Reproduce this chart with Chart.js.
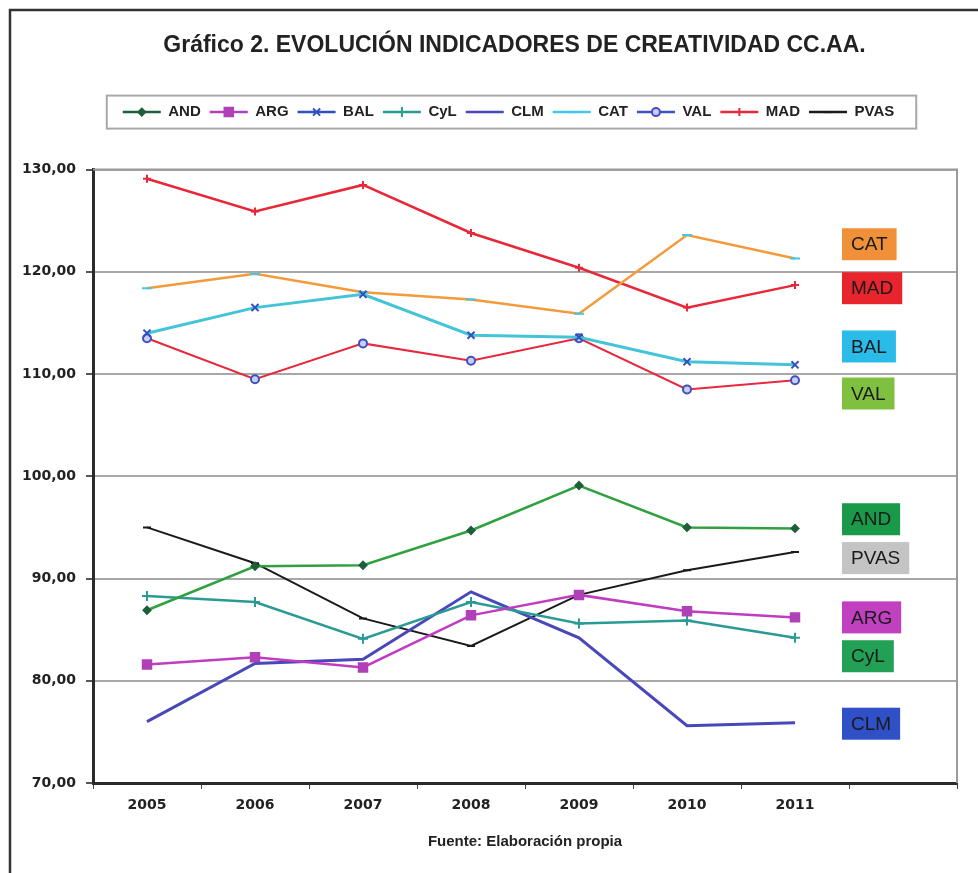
<!DOCTYPE html>
<html>
<head>
<meta charset="utf-8">
<script src="https://cdn.jsdelivr.net/npm/chart.js@4"></script>
<style>
  html, body { margin: 0; padding: 0; background: #fff; }
  #wrap { width: 978px; height: 873px; }
</style>
</head>
<body>
<div id="wrap"><canvas id="myChart"></canvas></div>
<script>
// years on the x axis, the last slot is left empty for the region tags
const years = ['2005', '2006', '2007', '2008', '2009', '2010', '2011', '']

const andValues = [86.9, 91.2, 91.3, 94.7, 99.1, 95.0, 94.9]
const argValues = [81.6, 82.3, 81.3, 86.4, 88.4, 86.8, 86.2]
const balValues = [114.0, 116.5, 117.8, 113.8, 113.6, 111.2, 110.9]
const cylValues = [88.3, 87.7, 84.1, 87.7, 85.6, 85.9, 84.2]
const clmValues = [76.0, 81.7, 82.1, 88.7, 84.2, 75.6, 75.9]
const catValues = [118.4, 119.8, 118.0, 117.3, 115.9, 123.6, 121.3]
const valValues = [113.5, 109.5, 113.0, 111.3, 113.5, 108.5, 109.4]
const madValues = [129.1, 125.9, 128.5, 123.8, 120.4, 116.5, 118.7]
const pvasValues = [95.0, 91.5, 86.1, 83.4, 88.4, 90.8, 92.6]

const yTicks = [70, 80, 90, 100, 110, 120, 130]

// coloured tags on the right side of the plot
const tagNames = ['CAT', 'MAD', 'BAL', 'VAL', 'AND', 'PVAS', 'ARG', 'CyL', 'CLM']
const tagValues = [122.7, 118.4, 112.7, 108.1, 95.8, 92.0, 86.2, 82.4, 75.8]
const tagColors = ['#f0913a', '#e8252d', '#2bbbe8', '#80c040', '#1a9a48', '#c4c4c4', '#c040c0', '#22a055', '#3050c8']

const makeSet = (label, data, color, style, radius, markFill, markLine, width) => ({
    label: label,
    data: data,
    borderColor: color,
    backgroundColor: color,
    borderWidth: width,
    pointStyle: style,
    pointRadius: radius,
    pointBackgroundColor: markFill,
    pointBorderColor: markLine,
    pointBorderWidth: 2,
    tension: 0
})

const datasets = [
    makeSet('AND', andValues, '#30a040', 'rectRot', 3.5, '#1d5f3a', '#1d5f3a', 2.5),
    makeSet('ARG', argValues, '#c03cc0', 'rect', 6, '#b040b8', '#b040b8', 2.5),
    makeSet('BAL', balValues, '#44c4d8', 'crossRot', 5, '#3050c0', '#3050c0', 3),
    makeSet('CyL', cylValues, '#2a9a94', 'cross', 5, '#2a9a94', '#2a9a94', 2.5),
    makeSet('CLM', clmValues, '#4848b8', 'circle', 0, '#4848b8', '#4848b8', 3),
    makeSet('CAT', catValues, '#f39a3a', 'line', 5, '#40c8e8', '#40c8e8', 2.5),
    makeSet('VAL', valValues, '#e8283c', 'circle', 4, '#c8d0f0', '#4050c0', 2),
    makeSet('MAD', madValues, '#e82838', 'cross', 4, '#e82838', '#e82838', 2.5),
    makeSet('PVAS', pvasValues, '#1a1a1a', 'line', 4, '#1a1a1a', '#1a1a1a', 2)
]

const LEGEND_H = 33

const extras = {
    id: 'extras',
    beforeInit(chart) {
        const fit = chart.legend.fit
        chart.legend.fit = function () {
            fit.call(this)
            this.height += 40
        }
    },
    afterLayout(chart) {
        // centre title and legend over the plot, not over the whole canvas
        chart.titleBlock.left = 72
        chart.legend.left = 60
        ;[chart.titleBlock, chart.legend].forEach(b => { b.width = b.right - b.left })
    },
    beforeDraw(chart) {
        const ctx = chart.ctx
        ctx.save()
        ctx.fillStyle = '#fff'
        ctx.fillRect(0, 0, chart.width, chart.height)
        ctx.strokeStyle = '#333'
        ctx.lineWidth = 2.5
        ctx.beginPath()
        ctx.moveTo(10, chart.height)
        ctx.lineTo(10, 10)
        ctx.lineTo(chart.width, 10)
        ctx.stroke()
        ctx.restore()
    },
    beforeDatasetsDraw(chart) {
        const ctx = chart.ctx
        const a = chart.chartArea
        ctx.save()
        ctx.strokeStyle = '#9a9a9a'
        ctx.lineWidth = 2
        ctx.beginPath()
        ctx.moveTo(a.left, a.top)
        ctx.lineTo(a.right, a.top)
        ctx.lineTo(a.right, a.bottom)
        ctx.stroke()
        ctx.restore()
    },
    afterDraw(chart) {
        const ctx = chart.ctx
        const legend = chart.legend
        const boxes = legend.legendHitBoxes
        const boxW = legend.options.labels.pointStyleWidth
        ctx.save()

        // legend frame
        const first = boxes[0]
        const last = boxes[boxes.length - 1]
        ctx.strokeStyle = '#a8a8a8'
        ctx.lineWidth = 2
        ctx.strokeRect(first.left - 16, legend.top, last.left + last.width + 22 - (first.left - 16), LEGEND_H)

        // markers on the legend lines
        boxes.forEach((b, i) => {
            const ds = chart.data.datasets[i]
            if (!ds.pointRadius) return
            ctx.fillStyle = ds.pointBackgroundColor
            ctx.strokeStyle = ds.pointBorderColor
            ctx.lineWidth = ds.pointBorderWidth
            Chart.helpers.drawPoint(ctx, {
                pointStyle: ds.pointStyle,
                radius: ds.pointRadius,
                rotation: 0,
                borderWidth: ds.pointBorderWidth
            }, b.left + boxW / 2, b.top + b.height / 2)
        })

        // region tags
        const x = chart.scales.x
        const y = chart.scales.y
        const left = x.getPixelForValue(7) - 61
        ctx.font = '19px "Liberation Sans", Arial, sans-serif'
        ctx.textBaseline = 'middle'
        ctx.textAlign = 'left'
        tagNames.forEach((name, i) => {
            const cy = y.getPixelForValue(tagValues[i])
            const w = ctx.measureText(name).width + 18
            ctx.fillStyle = tagColors[i]
            ctx.fillRect(left, cy - 16, w, 32)
            ctx.fillStyle = '#1a1a1a'
            ctx.fillText(name, left + 9, cy + 1)
        })

        // source line
        const a = chart.chartArea
        ctx.font = 'bold 15px "Liberation Sans", Arial, sans-serif'
        ctx.textAlign = 'center'
        ctx.fillStyle = '#222'
        ctx.fillText('Fuente: Elaboración propia', (a.left + a.right) / 2, 842)
        ctx.restore()
    }
}

const ctx = document.getElementById('myChart').getContext('2d')

Chart.defaults.color = '#222'

new Chart(ctx, {
    type: 'line',
    data: {
        labels: years,
        datasets: datasets
    },
    plugins: [extras],
    options: {
        responsive: true,
        maintainAspectRatio: false,
        animation: false,
        layout: {
            padding: { left: 0, right: 21, top: 0, bottom: 0 }
        },
        plugins: {
            title: {
                display: true,
                text: 'Gráfico 2. EVOLUCIÓN INDICADORES DE CREATIVIDAD CC.AA.',
                font: { family: '"Liberation Sans", Arial', size: 23, weight: 'bold' },
                padding: { top: 32, bottom: 36 }
            },
            legend: {
                labels: {
                    usePointStyle: true,
                    pointStyleWidth: 38,
                    padding: 9,
                    font: { family: '"Liberation Sans", Arial', size: 15, weight: 'bold' },
                    generateLabels: chart => Chart.defaults.plugins.legend.labels.generateLabels(chart).map(l => ({
                        ...l,
                        pointStyle: 'line',
                        lineWidth: 2.5
                    }))
                }
            },
            tooltip: { enabled: false }
        },
        scales: {
            x: {
                offset: true,
                afterFit: s => { s.height = 90 },
                grid: {
                    offset: true,
                    drawOnChartArea: false,
                    tickLength: 6,
                    color: '#444'
                },
                border: { color: '#2a2a2a', width: 3 },
                ticks: {
                    padding: 8,
                    maxRotation: 0,
                    font: { family: '"DejaVu Sans"', size: 14, weight: 'bold' }
                }
            },
            y: {
                min: 70,
                max: 130,
                afterFit: s => { s.width = 93 },
                afterBuildTicks: s => { s.ticks = yTicks.map(v => ({ value: v })) },
                grid: {
                    color: '#a8a8a8',
                    lineWidth: 2,
                    tickLength: 7,
                    tickColor: '#555'
                },
                border: { color: '#2a2a2a', width: 3 },
                ticks: {
                    padding: 10,
                    font: { family: '"DejaVu Sans"', size: 14, weight: 'bold' },
                    callback: v => v.toFixed(2).replace('.', ',')
                }
            }
        }
    }
})
</script>
</body>
</html>
